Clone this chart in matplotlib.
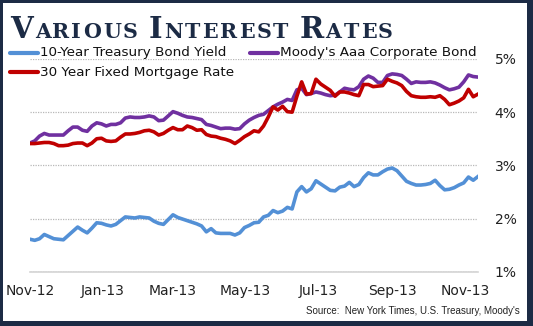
import matplotlib
matplotlib.use('Agg')
import matplotlib.pyplot as plt
from matplotlib.lines import Line2D
from matplotlib.patches import Rectangle
import pandas as pd

# weekly-ish samples (every 4 days) from Nov 1 2012
dates = pd.date_range('2012-11-01', periods=95, freq='4D')

treasury = [1.61, 1.59, 1.62, 1.70, 1.66, 1.62, 1.61, 1.60, 1.68, 1.76,
            1.84, 1.78, 1.73, 1.82, 1.92, 1.91, 1.88, 1.86, 1.89, 1.96,
            2.03, 2.02, 2.01, 2.03, 2.02, 2.01, 1.95, 1.91, 1.89, 1.98,
            2.07, 2.02, 1.99, 1.96, 1.93, 1.90, 1.86, 1.75, 1.81, 1.73,
            1.72, 1.72, 1.72, 1.69, 1.73, 1.83, 1.87, 1.92, 1.93, 2.03,
            2.06, 2.15, 2.11, 2.14, 2.21, 2.18, 2.50, 2.60, 2.50, 2.56,
            2.71, 2.65, 2.59, 2.53, 2.52, 2.59, 2.61, 2.68, 2.60, 2.64,
            2.77, 2.86, 2.82, 2.82, 2.88, 2.93, 2.95, 2.90, 2.80, 2.70,
            2.66, 2.63, 2.63, 2.64, 2.66, 2.72, 2.62, 2.54, 2.55, 2.58,
            2.63, 2.67, 2.78, 2.72, 2.79]

moodys = [3.42, 3.46, 3.55, 3.60, 3.57, 3.57, 3.57, 3.57, 3.65, 3.72,
          3.72, 3.66, 3.64, 3.74, 3.80, 3.78, 3.74, 3.77, 3.77, 3.80,
          3.89, 3.91, 3.90, 3.90, 3.91, 3.93, 3.91, 3.84, 3.85, 3.93,
          4.01, 3.98, 3.94, 3.91, 3.90, 3.88, 3.86, 3.77, 3.75, 3.72,
          3.69, 3.70, 3.70, 3.68, 3.69, 3.78, 3.85, 3.90, 3.94, 3.96,
          4.03, 4.10, 4.15, 4.19, 4.24, 4.22, 4.42, 4.45, 4.33, 4.35,
          4.38, 4.36, 4.33, 4.31, 4.32, 4.38, 4.45, 4.43, 4.42, 4.48,
          4.62, 4.68, 4.64, 4.56, 4.56, 4.69, 4.72, 4.71, 4.69, 4.62,
          4.54, 4.57, 4.56, 4.56, 4.57, 4.55, 4.51, 4.46, 4.42, 4.44,
          4.47, 4.57, 4.70, 4.67, 4.66]

mortgage = [3.41, 3.41, 3.42, 3.43, 3.43, 3.41, 3.37, 3.37, 3.38, 3.41,
            3.42, 3.42, 3.37, 3.42, 3.50, 3.51, 3.46, 3.45, 3.46, 3.53,
            3.59, 3.59, 3.60, 3.62, 3.65, 3.66, 3.63, 3.57, 3.60, 3.66,
            3.71, 3.67, 3.67, 3.74, 3.71, 3.66, 3.67, 3.58, 3.55, 3.54,
            3.51, 3.49, 3.46, 3.41, 3.47, 3.54, 3.59, 3.65, 3.63, 3.74,
            3.91, 4.10, 4.04, 4.11, 4.01, 4.00, 4.30, 4.57, 4.34, 4.35,
            4.62, 4.53, 4.47, 4.41, 4.30, 4.38, 4.38, 4.36, 4.33, 4.31,
            4.52, 4.52, 4.48, 4.49, 4.50, 4.62, 4.58, 4.55, 4.50, 4.39,
            4.31, 4.29, 4.28, 4.28, 4.29, 4.28, 4.31, 4.24, 4.14, 4.17,
            4.21, 4.27, 4.43, 4.29, 4.34]

month_ticks = pd.date_range('2012-11-01', '2013-11-01', freq='2MS')
month_labels = ['Nov-12', 'Jan-13', 'Mar-13', 'May-13', 'Jul-13', 'Sep-13', 'Nov-13']
pct_ticks = [1, 2, 3, 4, 5]

NAVY = '#1c2b45'
BLUE = '#5390d6'
PURPLE = '#7030a0'
RED = '#c00000'

W, H = 533, 326


def fx(x):
    return x / W


def fy(y):
    return 1 - y / H


fig = plt.figure(figsize=(W / 100, H / 100), dpi=100)
fig.patch.set_facecolor(NAVY)
fig.add_artist(Rectangle((fx(3), fy(321)), fx(524), (321 - 3) / H,
                         transform=fig.transFigure, facecolor='white',
                         edgecolor='none', zorder=-5))

ax = fig.add_axes([fx(30), fy(271.7), 448 / W, (271.7 - 59) / H])
ax.set_facecolor('none')

ax.plot(dates, treasury, color=BLUE, lw=2.6, solid_joinstyle='round', zorder=3)
ax.plot(dates, moodys, color=PURPLE, lw=2.6, solid_joinstyle='round', zorder=3)
ax.plot(dates, mortgage, color=RED, lw=2.6, solid_joinstyle='round', zorder=4)

ax.set_xlim(dates[0], dates[-1])
ax.set_ylim(1, 5)
ax.set_xticks(month_ticks)
ax.set_xticklabels(month_labels)
ax.set_yticks(pct_ticks)
ax.set_yticklabels([f'{p}%' for p in pct_ticks])
ax.yaxis.tick_right()
ax.tick_params(length=0, labelsize=10, colors='#222222')
ax.tick_params(axis='x', pad=9)
ax.tick_params(axis='y', pad=12)
for lbl in ax.get_yticklabels():
    lbl.set_horizontalalignment('left')
ax.grid(axis='y', color='#b8b8b8', lw=0.9, ls=(0, (1, 1)))
for side in ['top', 'left', 'right']:
    ax.spines[side].set_visible(False)
ax.spines['bottom'].set_color('#d4d4d4')
ax.spines['bottom'].set_linewidth(1.2)
ax.spines['bottom'].set_zorder(1)

# title in small caps: large first letter, smaller rest, letters spread
# out so the whole title runs from x=10 to x=393
renderer = fig.canvas.get_renderer()
title_words = ['Various', 'Interest', 'Rates']
glyphs = []
for i, word in enumerate(title_words):
    for j, ch in enumerate(word):
        size = 21 if j == 0 else 14.8
        t = fig.text(0, fy(38), ch.upper(), fontsize=size, fontweight='bold',
                     family='DejaVu Serif', color=NAVY, va='baseline')
        glyphs.append((t, t.get_window_extent(renderer).width, i))
word_gap = 9
natural = sum(g[1] for g in glyphs) + word_gap * (len(title_words) - 1)
track = (383 - natural) / (len(glyphs) - 1)
x = 10
prev_word = 0
for t, w, wi in glyphs:
    if wi != prev_word:
        x += word_gap
        prev_word = wi
    t.set_x(fx(x))
    x += w + track

# legend drawn by hand
legend_items = [(10, 52.7, BLUE, '10-Year Treasury Bond Yield'),
                (250, 52.7, PURPLE, "Moody's Aaa Corporate Bond"),
                (10, 72, RED, '30 Year Fixed Mortgage Rate')]
for lx, ly, col, label in legend_items:
    fig.add_artist(Line2D([fx(lx), fx(lx + 28)], [fy(ly), fy(ly)],
                          transform=fig.transFigure, color=col, lw=3,
                          solid_capstyle='round'))
    fig.text(fx(lx + 30), fy(ly), label, fontsize=9.7, color='#111111',
             va='center', ha='left')

fig.text(fx(520), fy(311), "Source:  New York Times, U.S. Treasury, Moody's",
         fontsize=7.0, family='Liberation Sans',
         color='#222222', ha='right', va='center')

fig.savefig('out.png', dpi=100, facecolor=fig.get_facecolor())
